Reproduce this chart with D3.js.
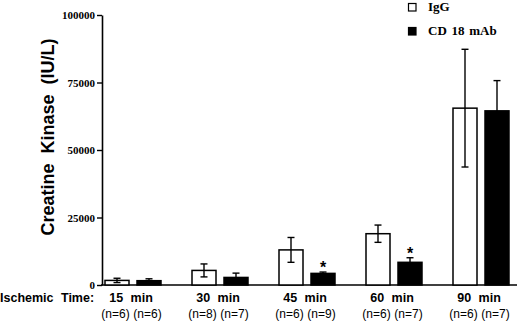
<!DOCTYPE html>
<html>
<head>
<meta charset="utf-8">
<script src="https://cdn.jsdelivr.net/npm/d3@7"></script>
<style>
  body { margin: 0; background: white; }
  svg { display: block; }
</style>
</head>
<body>
<div id="container"></div>
<script>
let w = 520;
let h = 321;

// data
let times = ["15 min", "30 min", "45 min", "60 min", "90 min"];
let groups = ["IgG", "CD 18 mAb"];
let igg = [1700, 5400, 13000, 19000, 65500];
let iggErr = [800, 2400, 4600, 3200, 21800];
let cd18 = [1600, 2800, 4300, 8400, 64500];
let cd18Err = [700, 1600, 500, 1700, 11200];
let iggN = ["(n=6)", "(n=8)", "(n=6)", "(n=6)", "(n=6)"];
let cd18N = ["(n=6)", "(n=7)", "(n=9)", "(n=7)", "(n=7)"];
let starred = [false, false, true, true, false];
let yTicks = [0, 25000, 50000, 75000, 100000];

let serif = "'Liberation Serif', 'Times New Roman', serif";
let sans = "'Liberation Sans', Arial, sans-serif";

let viz = d3.select("#container").append("svg")
    .attr("width", w)
    .attr("height", h)
    .style("background-color", "white");

// flatten into rows for drawing
let rows = [];
times.forEach(function(t, i){
  rows.push({time: t, group: groups[0], value: igg[i], err: iggErr[i], n: iggN[i], star: false});
  rows.push({time: t, group: groups[1], value: cd18[i], err: cd18Err[i], n: cd18N[i], star: starred[i]});
});

// SCALES
let yScale = d3.scaleLinear().domain([0, 100000]).range([285, 15]);
let x0 = d3.scaleBand().domain(times).range([89.5, 524.5]).padding(0);
let x1 = d3.scaleBand().domain(groups).range([15.5, 71.5]).paddingInner(0.25).paddingOuter(0);

function barX(d){ return x0(d.time) + x1(d.group); }
function barMid(d){ return barX(d) + x1.bandwidth() / 2; }

// Y AXIS
let yAxis = d3.axisLeft(yScale).tickValues(yTicks).tickSize(5).tickSizeOuter(0).tickFormat(d3.format("d"));
let yG = viz.append("g").attr("transform", "translate(102,0)").call(yAxis);
yG.select(".domain").attr("stroke-width", 1.6);
yG.selectAll(".tick line").attr("stroke-width", 1.4);
yG.selectAll(".tick text")
  .attr("x", -7)
  .style("font-family", serif)
  .style("font-weight", "bold")
  .style("font-size", "11px");

// baseline
viz.append("line")
  .attr("x1", 101).attr("x2", 517)
  .attr("y1", yScale(0)).attr("y2", yScale(0))
  .attr("stroke", "black").attr("stroke-width", 1.6);

// y title
viz.append("text")
  .attr("transform", "translate(54,137) rotate(-90)")
  .attr("text-anchor", "middle")
  .style("font-family", sans)
  .style("font-weight", "bold")
  .style("font-size", "18px")
  .style("word-spacing", "5px")
  .text("Creatine  Kinase  (IU/L)");

// BARS
viz.selectAll(".bar").data(rows).enter()
  .append("rect")
    .attr("class", "bar")
    .attr("x", barX)
    .attr("y", function(d){ return yScale(d.value); })
    .attr("width", x1.bandwidth())
    .attr("height", function(d){ return yScale(0) - yScale(d.value); })
    .attr("fill", function(d){ return d.group == "IgG" ? "white" : "black"; })
    .attr("stroke", "black")
    .attr("stroke-width", 1.5);

// ERROR BARS
let errG = viz.selectAll(".err").data(rows).enter().append("g").attr("class", "err");
errG.append("line")
  .attr("x1", barMid).attr("x2", barMid)
  .attr("y1", function(d){ return yScale(d.value + d.err); })
  .attr("y2", function(d){ return yScale(Math.max(0, d.value - d.err)); })
  .attr("stroke", "black").attr("stroke-width", 1.4);
errG.append("line")
  .attr("x1", function(d){ return barMid(d) - 3.5; })
  .attr("x2", function(d){ return barMid(d) + 3.5; })
  .attr("y1", function(d){ return yScale(d.value + d.err); })
  .attr("y2", function(d){ return yScale(d.value + d.err); })
  .attr("stroke", "black").attr("stroke-width", 1.4);
errG.append("line")
  .attr("x1", function(d){ return barMid(d) - 3.5; })
  .attr("x2", function(d){ return barMid(d) + 3.5; })
  .attr("y1", function(d){ return yScale(Math.max(0, d.value - d.err)); })
  .attr("y2", function(d){ return yScale(Math.max(0, d.value - d.err)); })
  .attr("stroke", function(d){ return d.group == "IgG" ? "black" : "none"; })
  .attr("stroke-width", 1.4);

// asterisks
viz.selectAll(".star").data(rows.filter(function(d){ return d.star; })).enter()
  .append("text")
    .attr("class", "star")
    .attr("x", barMid)
    .attr("y", function(d){ return yScale(d.value + d.err) + 1; })
    .attr("text-anchor", "middle")
    .style("font-family", sans)
    .style("font-weight", "bold")
    .style("font-size", "16px")
    .text("*");

// X LABELS
viz.append("text")
  .attr("x", 0).attr("y", 302)
  .style("font-family", sans)
  .style("font-weight", "bold")
  .style("font-size", "12.5px")
  .style("word-spacing", "4px")
  .text("Ischemic  Time:");

viz.selectAll(".timeLabel").data(times).enter()
  .append("text")
    .attr("class", "timeLabel")
    .attr("x", function(d){ return x0(d) + x0.bandwidth() / 2 - 2; })
    .attr("y", 302)
    .attr("text-anchor", "middle")
    .style("font-family", sans)
    .style("font-weight", "bold")
    .style("font-size", "12.5px")
    .style("word-spacing", "4px")
    .text(function(d){ return d; });

viz.selectAll(".nLabel").data(rows).enter()
  .append("text")
    .attr("class", "nLabel")
    .attr("x", function(d){ return barMid(d) - 1.5; })
    .attr("y", 318)
    .attr("text-anchor", "middle")
    .style("font-family", sans)
    .style("font-size", "12px")
    .text(function(d){ return d.n; });

// LEGEND
let legend = viz.selectAll(".legend").data(groups).enter()
  .append("g")
    .attr("class", "legend")
    .attr("transform", function(d, i){ return "translate(408," + (3 + i * 24) + ")"; });
legend.append("rect")
  .attr("x", 0.5).attr("y", 0.5)
  .attr("width", 7.5).attr("height", 7.5)
  .attr("fill", function(d, i){ return i == 0 ? "white" : "black"; })
  .attr("stroke", "black").attr("stroke-width", 1.2);
legend.append("text")
  .attr("x", 20).attr("y", 8)
  .style("font-family", serif)
  .style("font-weight", "bold")
  .style("font-size", "13px")
  .style("word-spacing", "1.5px")
  .text(function(d){ return d; });
</script>
</body>
</html>
